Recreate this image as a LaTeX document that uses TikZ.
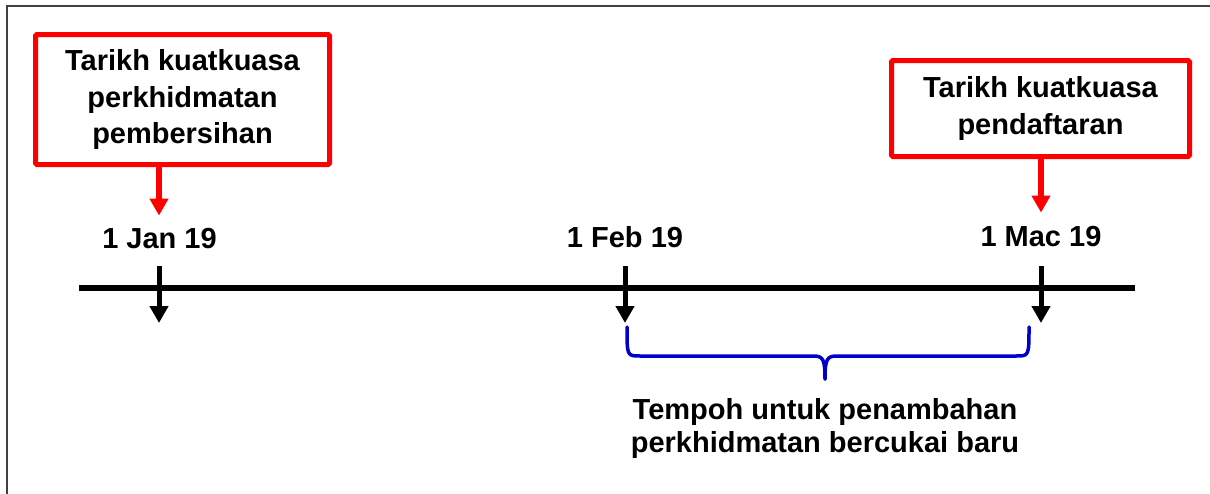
\documentclass[tikz,border=0pt]{standalone}
\usepackage{fontspec}
\setmainfont{Liberation Sans}
\usetikzlibrary{arrows.meta}
\definecolor{bord}{HTML}{404040}
\definecolor{bracecol}{HTML}{0000CC}
\definecolor{redc}{HTML}{FF0000}
\begin{document}
\begin{tikzpicture}[x=1pt,y=-1pt,
  redbox/.style={draw=redc,line width=5pt,rounded corners=1.5pt,inner sep=0pt,align=center,
    font=\fontsize{29}{36.5}\selectfont\bfseries},
  datelbl/.style={inner sep=0pt,anchor=base,font=\fontsize{29}{34}\selectfont\bfseries},
  redarrow/.style={draw=redc,line width=6pt,-{Triangle[width=18pt,length=17pt]},redc},
  tickarrow/.style={draw=black,line width=5pt,-{Triangle[width=18pt,length=17pt]}},
  timeline/.style={draw=black,line width=5.5pt},
  bracestyle/.style={draw=bracecol,line width=3.5pt,line cap=round,line join=round},
  note/.style={inner sep=0pt,align=center,font=\fontsize{29}{33}\selectfont\bfseries}]
\useasboundingbox (0,0) rectangle (1210,493);
\clip (0,0) rectangle (1210,493);
\draw[bord,line width=2pt] (7,6) rectangle (1225,510);

% boxes
\node[redbox,minimum width=294pt,minimum height=130pt] (b1) at (182.5,99.5)
  {Tarikh kuatkuasa\\perkhidmatan\\pembersihan};
\node[redbox,minimum width=298pt,minimum height=96pt] (b2) at (1040.5,108.5)
  {Tarikh kuatkuasa\\pendaftaran};

% date labels
\node[datelbl] (jan) at (159.5,248) {1 Jan 19};
\node[datelbl] (feb) at (625,247) {1 Feb 19};
\node[datelbl] (mac) at (1041,246) {1 Mac 19};

% red arrows
\draw[redarrow] (b1.south -| 159,0) -- ([yshift=12pt]jan.north -| 159,0);
\draw[redarrow] (b2.south -| 1041,0) -- ([yshift=13pt]mac.north -| 1041,0);

% timeline
\coordinate (tl1) at (79,288);
\coordinate (tl2) at (1135,288);
\draw[timeline] (tl1) -- (tl2);
\coordinate (tJ) at (159,288);
\coordinate (tF) at (625,288);
\coordinate (tM) at (1041,288);
\foreach \t in {tJ,tF,tM}
  \draw[tickarrow] ([yshift=22pt]\t) -- ([yshift=-35pt]\t);

% brace
\draw[bracestyle] (627,327) .. controls (627,356) and (627,356) .. (640,356) -- (813,356)
  .. controls (823,356) and (825,359) .. (825,379);
\draw[bracestyle] (1029,327) .. controls (1029,356) and (1029,356) .. (1016,356) -- (837,356)
  .. controls (827,356) and (825,359) .. (825,379);

% note
\node[note] (nt) at (825,428) {Tempoh untuk penambahan\\perkhidmatan bercukai baru};
\end{tikzpicture}
\end{document}
